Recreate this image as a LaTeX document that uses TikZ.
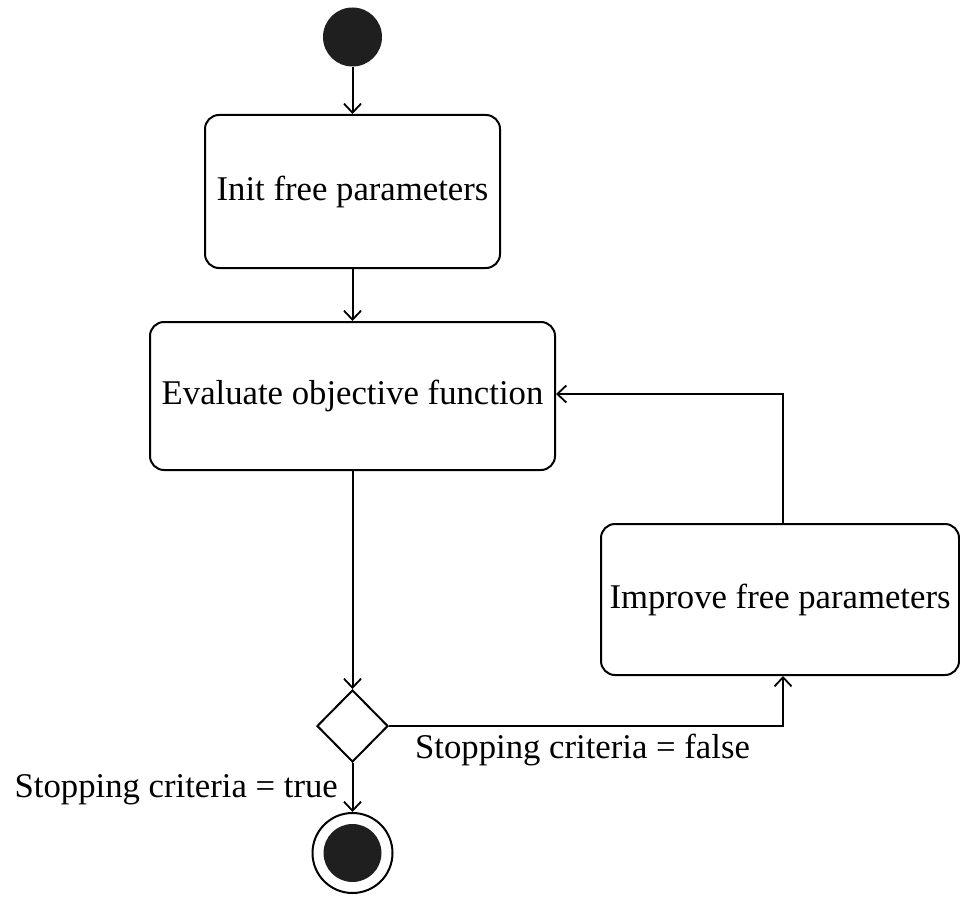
\documentclass[tikz,border=0pt]{standalone}
\usepackage{fontspec}
\setmainfont{Liberation Serif}
\usetikzlibrary{arrows.meta,shapes.geometric,calc}
\tikzset{
  act/.style={draw, line width=2pt, rounded corners=14pt, align=center, inner sep=0pt},
  conn/.style={line width=2pt, -{Straight Barb[length=9pt,width=17pt,line width=1.8pt]}},
  lbl/.style={inner sep=0pt},
}
\begin{document}
\begin{tikzpicture}[x=1pt,y=-1pt,font=\fontsize{34.7}{40}\selectfont]
\useasboundingbox (0,0) rectangle (960,896);
\node[circle, fill=black!88, minimum size=59pt, inner sep=0pt] (start) at (352.5,37) {};
\node[act, minimum width=295pt, minimum height=153pt] (init) at (352.5,191.5) {Init free parameters};
\node[act, minimum width=405pt, minimum height=148pt] (eval) at (352.5,396) {Evaluate objective function};
\node[act, minimum width=358pt, minimum height=151pt] (impr) at (780,599.5) {Improve free parameters};
\node[diamond, draw, line width=2pt, minimum width=71pt, minimum height=72pt, inner sep=0pt] (dec) at (352.5,726) {};
\node[circle, draw, line width=2pt, minimum size=80pt, inner sep=0pt] (end) at (352.5,853) {};
\node[circle, fill=black!88, minimum size=58pt, inner sep=0pt] (endin) at (end.center) {};
\coordinate (up) at ([xshift=3pt]impr.north);
\coordinate (dn) at ([xshift=3pt]impr.south);
\draw[conn] (start) -- (init);
\draw[conn] (init) -- (eval);
\draw[conn] (eval) -- (dec);
\draw[conn] (dec) -- (end);
\draw[conn] (dec.east) -| (dn);
\draw[conn] (up) |- ([yshift=2pt]eval.east);
\node[lbl, anchor=west] (lf) at (415,750) {Stopping criteria = false};
\node[lbl, anchor=east] (lt) at (338,790) {Stopping criteria = true};
\end{tikzpicture}
\end{document}
